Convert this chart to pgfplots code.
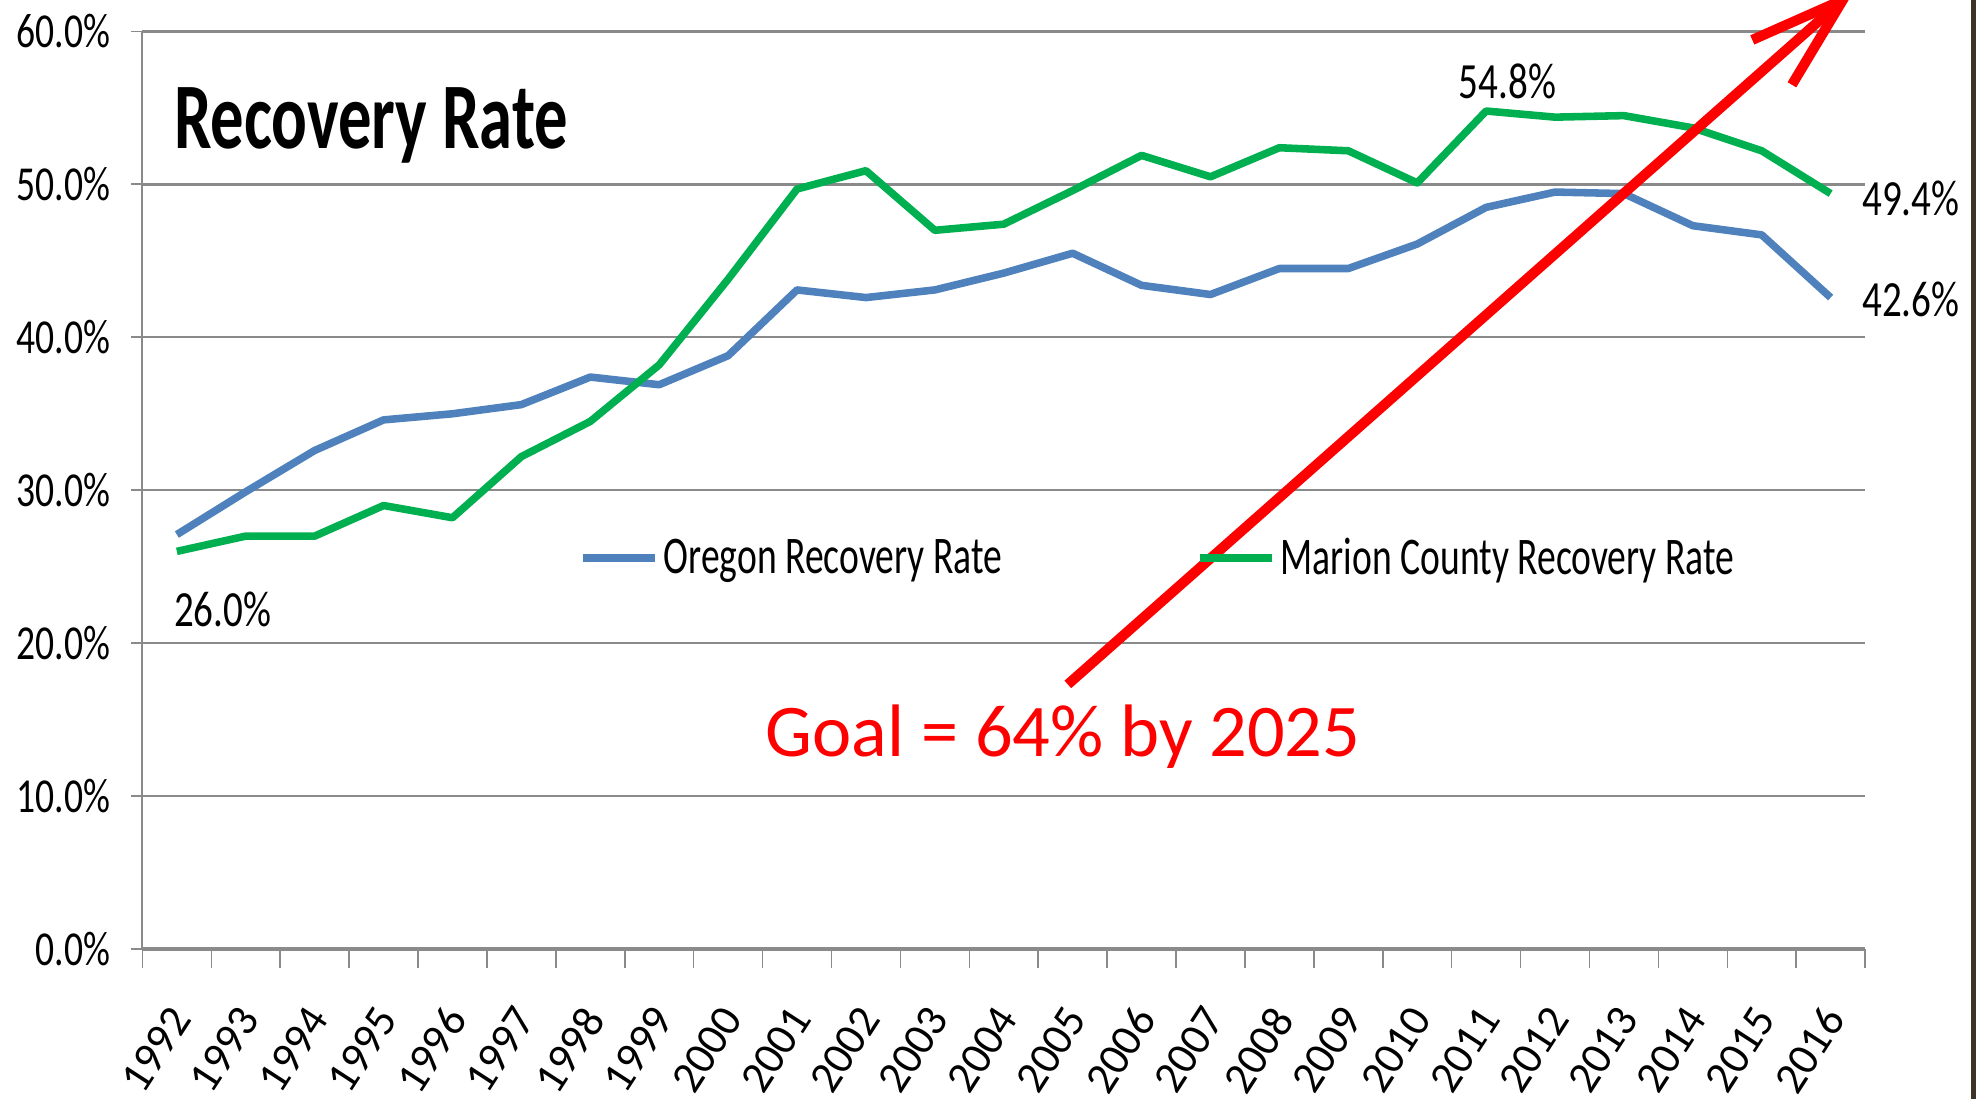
\documentclass[border=0pt]{standalone}
\usepackage{fontspec}
\setmainfont{Carlito}
\newfontfamily\cnA{Carlito}[FakeStretch=0.71]
\newfontfamily\cnB{Carlito}[FakeStretch=0.77]
\usepackage{pgfplots}
\pgfplotsset{compat=1.18}
\usetikzlibrary{arrows.meta}
\definecolor{oregon}{HTML}{4F81BD}
\definecolor{marion}{HTML}{00B050}
\definecolor{gridgray}{HTML}{8A8A8A}
\definecolor{strip}{HTML}{3B3428}
\begin{document}
\begin{tikzpicture}
\begin{axis}[
  scale only axis,
  width=546.8pt, height=291.2pt,
  at={(45.2pt,47.6pt)}, anchor=south west,
  xmin=-0.5, xmax=24.5, ymin=0, ymax=60,
  clip=false,
  axis lines*=left,
  axis line style={gridgray, line width=0.6pt},
  x axis line style={line width=1.1pt},
  tick align=outside,
  xtick={0,...,24},
  xticklabels={1992,1993,1994,1995,1996,1997,1998,1999,2000,2001,2002,2003,2004,2005,2006,2007,2008,2009,2010,2011,2012,2013,2014,2015,2016},
  major x tick style={draw=none},
  minor xtick={-0.5,0.5,...,24.5},
  minor tick length=6pt,
  minor x tick style={gridgray, line width=0.5pt},
  xticklabel style={font=\fontsize{14.2}{14}\selectfont, xshift=1.2pt, yshift=-16.2pt, rotate=57, anchor=east, inner sep=0pt},
  ytick={0,10,20,30,40,50,60},
  yticklabels={0.0\%,10.0\%,20.0\%,30.0\%,40.0\%,50.0\%,60.0\%},
  major tick length=3.6pt,
  y tick style={gridgray, line width=0.6pt},
  yticklabel style={font=\cnB\fontsize{15.5}{16}\selectfont, inner sep=0pt, xshift=-6.5pt},
  ymajorgrids,
  major grid style={gridgray, line width=0.7pt},
  legend columns=2,
  legend style={draw=none, fill=none, at={(axis cs:5.69,25.55)}, anchor=west,
    font=\cnA\fontsize{16.8}{18}\selectfont,
    nodes={inner xsep=1.5pt, inner ysep=0pt},
    /tikz/every even column/.append style={column sep=60pt}},
  legend image code/.code={\draw[#1] (0pt,0pt) -- (23pt,0pt);},
]
\addplot[oregon, line width=2.4pt, line join=round] coordinates {
(0,27.1) (1,29.9) (2,32.6) (3,34.6) (4,35.0) (5,35.6) (6,37.4) (7,36.9) (8,38.8)
(9,43.1) (10,42.6) (11,43.1) (12,44.2) (13,45.5) (14,43.4) (15,42.8) (16,44.5)
(17,44.5) (18,46.1) (19,48.5) (20,49.5) (21,49.4) (22,47.3) (23,46.7) (24,42.6)};
\addlegendentry{Oregon Recovery Rate}
\addplot[marion, line width=2.4pt, line join=round] coordinates {
(0,26.0) (1,27.0) (2,27.0) (3,29.0) (4,28.2) (5,32.2) (6,34.5) (7,38.2) (8,43.8)
(9,49.7) (10,50.9) (11,47.0) (12,47.4) (13,49.6) (14,51.9) (15,50.5) (16,52.4)
(17,52.2) (18,50.1) (19,54.8) (20,54.4) (21,54.5) (22,53.7) (23,52.2) (24,49.4)};
\addlegendentry{Marion County Recovery Rate}
\addplot[forget plot, red, line width=3.2pt, -{Straight Barb[length=30pt,width=19pt]}] coordinates {(12.93,17.3) (24.36,62.8)};
\node[anchor=base west, inner sep=0pt, font=\cnA\bfseries\fontsize{29.8}{30}\selectfont] at (axis cs:-0.05,52.34) {Recovery Rate};
\node[anchor=base, inner sep=0pt, font=\cnB\fontsize{16.1}{17}\selectfont] at (axis cs:19.31,55.63) {54.8\%};
\node[anchor=base west, inner sep=0pt, font=\cnB\fontsize{16.1}{17}\selectfont] at (axis cs:24.45,47.97) {49.4\%};
\node[anchor=base west, inner sep=0pt, font=\cnB\fontsize{16.1}{17}\selectfont] at (axis cs:24.45,41.37) {42.6\%};
\node[anchor=base west, inner sep=0pt, font=\cnB\fontsize{16.1}{17}\selectfont] at (axis cs:-0.05,21.1) {26.0\%};
\node[anchor=base, inner sep=0pt, text=red, font=\fontsize{23.6}{24}\selectfont] at (axis cs:12.86,12.6) {Goal = 64\% by 2025};
\end{axis}
\pgfresetboundingbox
\useasboundingbox (0,0) rectangle (627.2pt,348.8pt);
\fill[strip] (625.6pt,0) rectangle (627.2pt,348.8pt);
\end{tikzpicture}
\end{document}
